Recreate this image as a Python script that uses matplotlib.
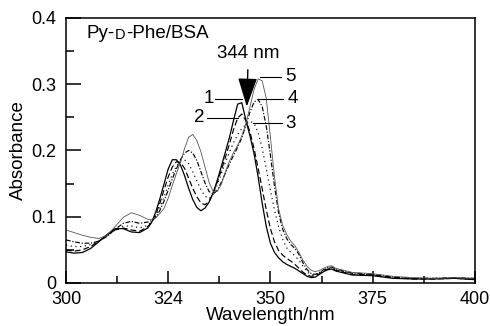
import matplotlib
matplotlib.use("Agg")
import matplotlib.pyplot as plt
from matplotlib.ticker import MultipleLocator, FixedLocator, FixedFormatter

plt.rcParams["font.family"] = ["Liberation Sans", "DejaVu Sans"]

# wavelength grid (nm)
wl = list(range(300, 321, 2)) + list(range(321, 367)) + [370, 375, 380, 385, 390, 395, 400]

# absorbance spectra
a1 = [.047, .045, .046, .052, .062, .073, .082, .082, .077, .076, .083,
      .092, .108, .128, .150, .172, .186, .186, .178, .162, .143,
      .126, .114, .109, .113, .122, .136, .155, .176, .198, .220,
      .246, .270, .272, .246, .222, .195, .160, .120, .085, .060,
      .046, .038, .032, .028, .025, .022, .018, .014, .010, .008,
      .009, .013, .017, .020, .021, .018,
      .012, .011, .007, .006, .006, .007, .005]
a2 = [.050, .048, .050, .055, .063, .072, .080, .083, .080, .078, .085,
      .092, .104, .121, .141, .160, .175, .183, .182, .173, .158,
      .143, .130, .121, .118, .123, .136, .152, .170, .190, .210,
      .232, .249, .255, .245, .228, .203, .173, .142, .110, .082,
      .062, .049, .042, .037, .033, .028, .022, .016, .012, .010,
      .011, .014, .018, .021, .022, .019,
      .013, .012, .008, .006, .006, .007, .006]
a3 = [.057, .055, .055, .058, .063, .071, .080, .086, .086, .083, .087,
      .093, .101, .114, .130, .148, .164, .176, .184, .186, .180,
      .168, .154, .141, .131, .127, .134, .148, .165, .182, .198,
      .212, .224, .233, .239, .244, .241, .227, .203, .172, .140,
      .110, .085, .066, .053, .046, .041, .034, .025, .017, .012,
      .012, .015, .019, .022, .023, .020,
      .014, .012, .008, .007, .007, .007, .006]
a4 = [.065, .062, .060, .060, .063, .070, .081, .090, .093, .090, .092,
      .094, .099, .110, .124, .140, .157, .172, .186, .196, .200,
      .196, .185, .168, .151, .138, .134, .140, .152, .166, .180,
      .193, .205, .219, .238, .258, .273, .277, .266, .236, .193,
      .146, .106, .081, .067, .058, .052, .043, .030, .020, .014,
      .013, .016, .020, .023, .024, .021,
      .015, .013, .009, .007, .007, .008, .007]
a5 = [.080, .076, .072, .069, .067, .072, .085, .099, .106, .102, .096,
      .096, .099, .105, .113, .128, .147, .165, .182, .203, .220,
      .224, .215, .198, .175, .152, .138, .138, .149, .168, .184,
      .197, .208, .222, .240, .266, .292, .308, .305, .278, .220,
      .160, .112, .087, .073, .063, .056, .046, .034, .025, .019,
      .017, .019, .022, .025, .026, .022,
      .016, .014, .010, .008, .007, .008, .007]

xticks = [300, 325, 350, 375, 400]
xticklabels = ["300", "324", "350", "375", "400"]

fs = 13.5

fig = plt.figure(figsize=(4.9, 3.26), dpi=100)
ax = fig.add_axes([0.1347, 0.132, 0.8343, 0.813])

ax.plot(wl, a1, color="black", lw=0.9, ls="-")
ax.plot(wl, a2, color="black", lw=0.85, ls=(0, (5, 2.5)))
ax.plot(wl, a3, color="black", lw=0.85, ls=(0, (1, 3)))
ax.plot(wl, a4, color="black", lw=0.85, ls=(0, (4, 1.5, 1, 1.5)))
ax.plot(wl, a5, color="#555555", lw=0.6, ls="-")

ax.set_xlim(300, 400)
ax.set_ylim(0, 0.4)

ax.xaxis.set_major_locator(FixedLocator(xticks))
ax.xaxis.set_major_formatter(FixedFormatter(xticklabels))
ax.xaxis.set_minor_locator(MultipleLocator(12.5))
ax.yaxis.set_major_locator(MultipleLocator(0.1))
ax.yaxis.set_minor_locator(MultipleLocator(0.05))
ax.yaxis.set_major_formatter(plt.FuncFormatter(lambda v, p: "0" if v == 0 else f"{v:.1f}"))

ax.tick_params(axis="both", which="both", direction="in", top=False, right=False,
               labelsize=13, width=1.1)
ax.tick_params(axis="x", which="major", length=9, pad=6)
ax.tick_params(axis="x", which="minor", length=5)
ax.tick_params(axis="y", which="major", length=11, pad=7)
ax.tick_params(axis="y", which="minor", length=6)
for s in ax.spines.values():
    s.set_linewidth(1.1)

ax.set_xlabel("Wavelength/nm", fontsize=fs, labelpad=-1)
ax.set_ylabel("Absorbance", fontsize=fs, labelpad=3)

# sample name with small-cap D
t1 = ax.text(305.1, 0.376, "Py-", fontsize=fs, va="center", ha="left")
t2 = ax.annotate("D", xycoords=t1, xy=(1, 0), va="bottom", fontsize=10.5)
ax.annotate("-Phe/BSA", xycoords=t2, xy=(1, 0), va="bottom", fontsize=fs)

# isosbestic point arrow
ax.annotate("", xy=(344.2, 0.262), xytext=(344.5, 0.326),
            arrowprops=dict(arrowstyle="-|>,head_length=1.2,head_width=0.4",
                            mutation_scale=15, color="black", lw=1.0))
ax.text(344.5, 0.346, "344 nm", fontsize=fs, ha="center", va="center")

# curve labels with leader lines
ax.plot([347.5, 352.6], [0.311, 0.311], color="black", lw=0.8)
ax.text(354.9, 0.311, "5", fontsize=fs, ha="center", va="center")
ax.plot([347.0, 353.0], [0.278, 0.278], color="black", lw=0.8)
ax.text(355.5, 0.278, "4", fontsize=fs, ha="center", va="center")
ax.plot([336.4, 343.0], [0.278, 0.278], color="black", lw=0.8)
ax.text(335.0, 0.278, "1", fontsize=fs, ha="center", va="center")
ax.plot([334.5, 342.0], [0.249, 0.249], color="black", lw=0.8)
ax.text(332.6, 0.249, "2", fontsize=fs, ha="center", va="center")
ax.plot([345.7, 352.8], [0.241, 0.241], color="black", lw=0.8)
ax.text(355.0, 0.241, "3", fontsize=fs, ha="center", va="center")

fig.savefig("out.png", dpi=100)
